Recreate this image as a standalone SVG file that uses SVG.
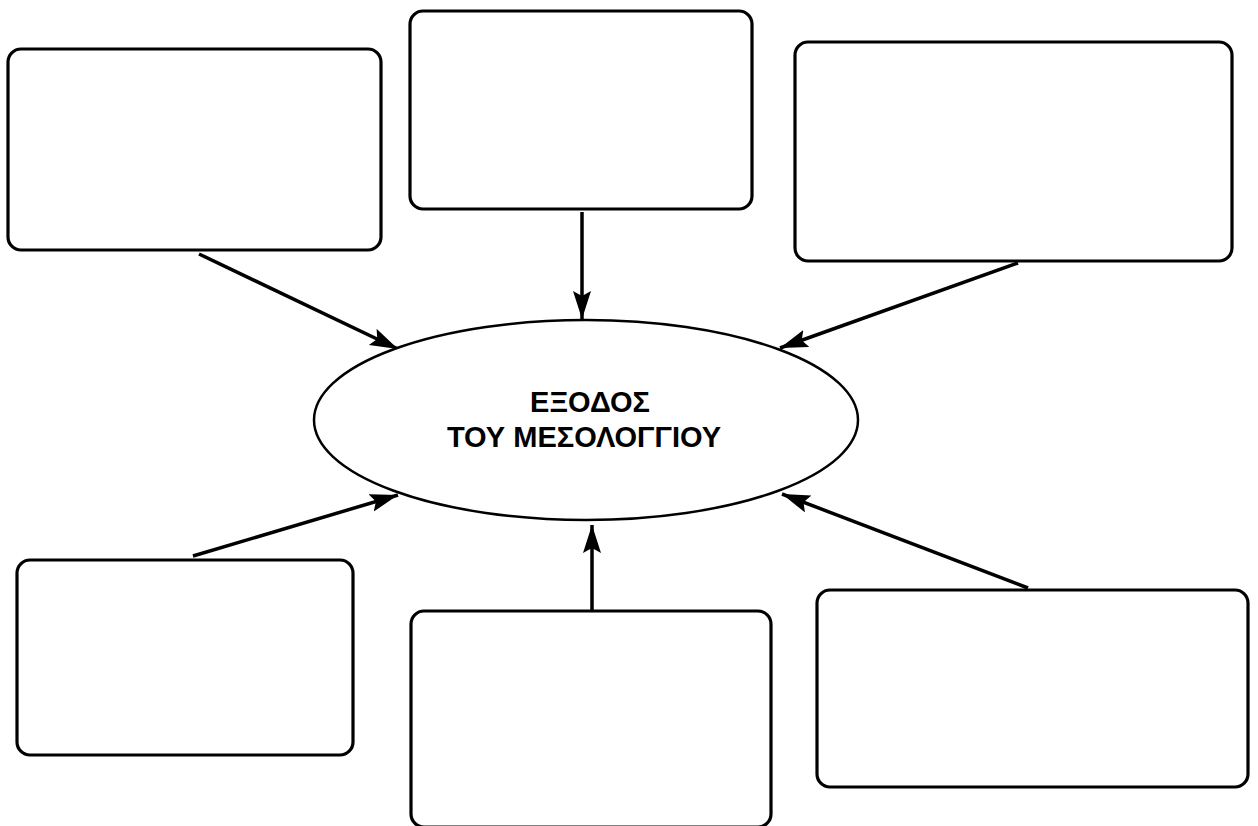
<svg xmlns="http://www.w3.org/2000/svg" width="1258" height="826" viewBox="0 0 1258 826">
<style>
.box{fill:#fff;stroke:#000;stroke-width:3.2}
.ell{fill:#fff;stroke:#000;stroke-width:2.5}
.conn{stroke:#000;stroke-width:3.5;fill:none;marker-end:url(#ah)}
.lbl{font-family:"Liberation Sans",Arial,sans-serif;font-weight:bold;font-size:29px;fill:#000;text-anchor:middle}
</style>
<defs>
<marker id="ah" markerUnits="userSpaceOnUse" markerWidth="30" markerHeight="20" refX="28" refY="9" orient="auto">
<path d="M0,0 L28,9 L0,18 L5,9 Z" fill="#000"/>
</marker>
</defs>
<rect width="1258" height="826" fill="#fff"/>
<g id="connectors">
<line class="conn" x1="199" y1="254" x2="398" y2="349"/>
<line class="conn" x1="582" y1="212" x2="582" y2="319"/>
<line class="conn" x1="1018" y1="263" x2="780" y2="348"/>
<line class="conn" x1="193" y1="556" x2="398" y2="495"/>
<line class="conn" x1="592" y1="610" x2="592" y2="525"/>
<line class="conn" x1="1028" y1="588" x2="782" y2="494"/>
</g>
<g id="box-top-left"><rect class="box" x="8" y="49" width="373" height="201" rx="13"/></g>
<g id="box-top-center"><rect class="box" x="410" y="11" width="342" height="198" rx="13"/></g>
<g id="box-top-right"><rect class="box" x="795" y="42" width="437" height="219" rx="13"/></g>
<g id="box-bottom-left"><rect class="box" x="17" y="560" width="336" height="195" rx="13"/></g>
<g id="box-bottom-center"><rect class="box" x="411" y="611" width="360" height="216" rx="13"/></g>
<g id="box-bottom-right"><rect class="box" x="817" y="590" width="431" height="197" rx="13"/></g>
<g id="center">
<ellipse class="ell" cx="586" cy="420" rx="272" ry="100"/>
<text class="lbl" x="590" y="412">ΕΞΟΔΟΣ</text>
<text class="lbl" x="584" y="447">ΤΟΥ ΜΕΣΟΛΟΓΓΙΟΥ</text>
</g>
</svg>
